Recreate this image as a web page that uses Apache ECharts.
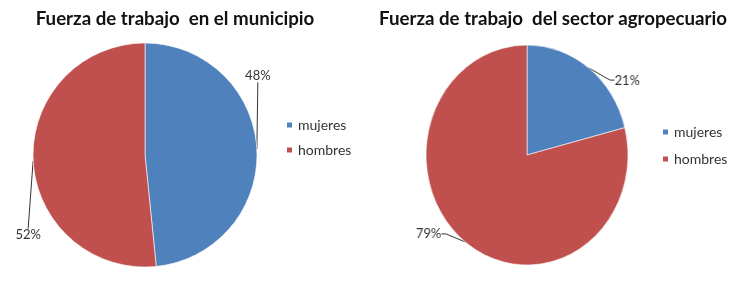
<!DOCTYPE html>
<html><head><meta charset="utf-8">
<script src="https://cdn.jsdelivr.net/npm/echarts@6/dist/echarts.min.js"></script>
<style>
html,body{margin:0;padding:0;background:#fff}
#wrap{position:relative;width:740px;height:285px}
#c{position:absolute;left:0;top:0;width:740px;height:285px}
#c2{position:absolute;left:0;top:0;width:740px;height:285px;transform:scaleX(0.918);transform-origin:527px 0;pointer-events:none}
</style>
</head><body><div id="wrap"><div id="c"></div><div id="c2"></div></div>
<script>
const categories = ['mujeres', 'hombres'];
const municipioValues = [48.4, 51.6];
const agroValues = [21, 79];
const titles = ['Fuerza de trabajo  en el municipio', 'Fuerza de trabajo  del sector agropecuario'];
const colors = ['#4F81BD', '#C0504D'];

const font = 'Lato, "Open Sans", sans-serif';
const chart = echarts.init(document.getElementById('c'), null, {renderer: 'canvas'});
const chart2 = echarts.init(document.getElementById('c2'), null, {renderer: 'canvas'});

function mk(vals){ return categories.map((n,i)=>({name:n, value:vals[i]})); }
function pct(p){ return Math.round(p.value) + '%'; }

// label offsets relative to slice edge point: [dx, dy, align, verticalAlign]
const offsets = [
  [[1,-67,'center','bottom'], [-5,68,'center','top']],
  [[28,12,'left','middle'], [-26,-8,'right','middle']]
];

function layoutFor(si){
  return function(params){
    const p = params.labelLinePoints;
    if(!p) return {};
    const o = offsets[si][params.dataIndex];
    return {x: p[0][0]+o[0], y: p[0][1]+o[1], align: o[2], verticalAlign: o[3]};
  };
}

const legendBase = {data: categories, orient:'vertical', icon:'rect', itemWidth:7, itemHeight:7,
  padding:0, textStyle:{fontFamily: font, fontSize:14, lineHeight:14, color:'#333', padding:[0,0,0,0]}};

chart.setOption({
  animation: false,
  color: colors,
  title: [
    {text: titles[0], left: 170, top: 4, textAlign: 'center',
     textStyle:{fontFamily: font, fontWeight:'bold', fontSize:18.7, color:'#111'}},
    {text: titles[1], left: 548, top: 4, textAlign: 'center',
     textStyle:{fontFamily: font, fontWeight:'bold', fontSize:18.7, color:'#111'}}
  ],
  legend: [
    Object.assign({}, legendBase, {left: 285, top: 118, itemGap: 11}),
    Object.assign({}, legendBase, {left: 661, top: 125, itemGap: 13})
  ],
  series: [
    {type:'pie', center:[145,155], radius:112, startAngle:90, clockwise:true,
     data: mk(municipioValues),
     itemStyle:{borderColor:'#fff', borderWidth:0.6},
     label:{show:true, position:'outside', formatter: pct, bleedMargin:0, width:40, overflow:'none',
            fontFamily: font, fontSize:13, color:'#333'},
     labelLine:{show:true, length:0, length2:0, maxSurfaceAngle:180, lineStyle:{color:'#333', width:1}},
     labelLayout: layoutFor(0)}
  ]
});

chart2.setOption({
  animation: false,
  color: colors,
  series: [
    {type:'pie', center:[527,155], radius:110, startAngle:90, clockwise:true,
     data: mk(agroValues),
     itemStyle:{borderColor:'#fff', borderWidth:0.6},
     label:{show:true, position:'outside', formatter: pct, bleedMargin:0,
            fontFamily: font, fontSize:14, color:'#333'},
     labelLine:{show:true, length:5, length2:5, lineStyle:{color:'#333', width:1}},
     labelLayout: layoutFor(1)}
  ]
});
</script></body></html>
